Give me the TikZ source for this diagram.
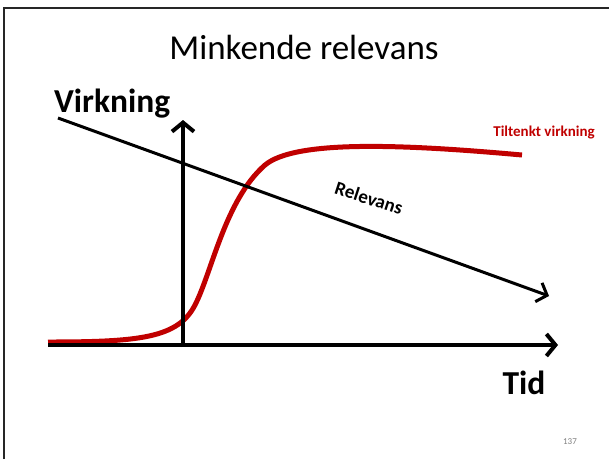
\documentclass[tikz,border=0pt]{standalone}
\usepackage{fontspec}
\setmainfont{Carlito}
\usetikzlibrary{arrows.meta}
\definecolor{curvered}{HTML}{C00000}
\begin{document}
\begin{tikzpicture}[x=1pt,y=-1pt,
  axis/.style={line width=4pt,-{Straight Barb[length=9pt,width=22pt]}},
  relline/.style={line width=3pt,-{Straight Barb[length=9pt,width=20pt]}},
  lbl/.style={inner sep=0pt,font=\bfseries}]
\useasboundingbox (0,0) rectangle (609,459);
\fill[white] (0,0) rectangle (609,459);
% slide frame
\draw[line width=2pt,black!85] (4,459) -- (4,8) -- (609,8);
% title
\node[inner sep=0pt,font=\fontsize{35}{40}\selectfont] (title) at (304,47) {Minkende relevans};
% labels
\node[lbl,font=\bfseries\fontsize{33.5}{38}\selectfont,anchor=west] (ylab) at (54,104) {Virkning};
\node[lbl,font=\bfseries\fontsize{33.5}{38}\selectfont] (xlab) at (524,383) {Tid};
\node[lbl,font=\bfseries\fontsize{15}{18}\selectfont,text=curvered] (clab) at (544,133) {Tiltenkt virkning};
\node[lbl,font=\bfseries\fontsize{19}{22}\selectfont,rotate=-18] (rlab) at (369,198) {Relevans};
\node[inner sep=0pt,font=\fontsize{9}{10}\selectfont,text=black!50] (pnum) at (570,442) {137};
% coordinates
\coordinate (xs) at (48,345);
\coordinate (xe) at (558,345);
\coordinate (ys) at (183,347);
\coordinate (ye) at (183,120);
\coordinate (rs) at (58,118);
\coordinate (re) at (549,296);
% curve
\draw[curvered,line width=5pt] (48,342) .. controls (140,342) and (178,338) .. (195,305)
  .. controls (212,272) and (225,200) .. (265,165)
  .. controls (295,140) and (400,144) .. (522,155);
% axes
\draw[axis] (xs) -- (xe);
\draw[axis] (ys) -- (ye);
\draw[relline] (rs) -- (re);
\end{tikzpicture}
\end{document}
